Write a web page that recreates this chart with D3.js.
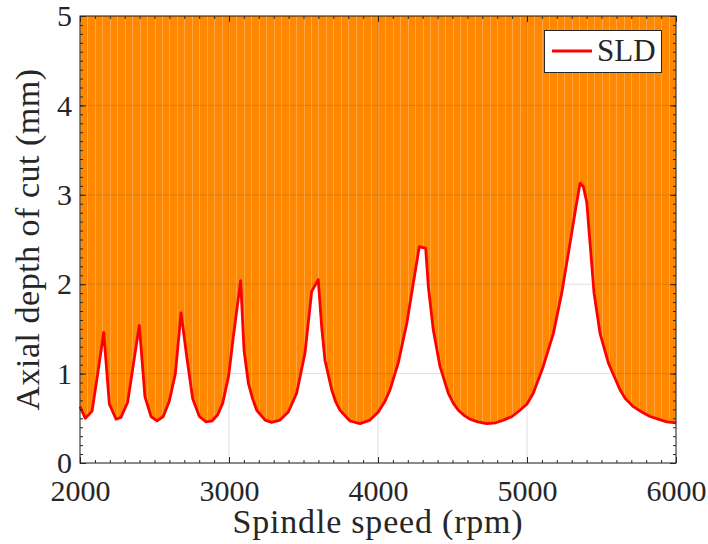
<!DOCTYPE html>
<html>
<head>
<meta charset="utf-8">
<script src="https://cdn.jsdelivr.net/npm/d3@7"></script>
<style>
  body { margin: 0; background: #fff; }
  text { font-family: "Liberation Serif", "DejaVu Serif", serif; fill: #262626; }
</style>
</head>
<body>
<div id="chart"></div>
<script>
// spindle speed (rpm) and limit axial depth of cut (mm)
const speed = [2000, 2036, 2081, 2119, 2159, 2197, 2242, 2275, 2320, 2358, 2398, 2436, 2477, 2517,
  2559, 2599, 2640, 2678, 2718, 2756, 2801, 2846, 2886, 2924, 2958, 2998, 3029, 3078, 3101, 3130,
  3158, 3186, 3242, 3286, 3342, 3398, 3454, 3510, 3555, 3599, 3622, 3644, 3689, 3715, 3745, 3812,
  3879, 3946, 4002, 4047, 4081, 4136, 4193, 4237, 4277, 4320, 4338, 4371, 4416, 4472, 4505, 4539,
  4580, 4617, 4670, 4729, 4790, 4841, 4900, 4953, 5000, 5042, 5109, 5177, 5233, 5289, 5329, 5356,
  5378, 5401, 5423, 5450, 5490, 5546, 5624, 5660, 5714, 5770, 5826, 5880, 5938, 6000];
const depth = [0.63, 0.50, 0.58, 1.00, 1.46, 0.66, 0.49, 0.51, 0.68, 1.10, 1.54, 0.74, 0.52, 0.47,
  0.52, 0.69, 1.00, 1.68, 1.17, 0.72, 0.52, 0.46, 0.47, 0.54, 0.67, 0.98, 1.41, 2.04, 1.26, 0.89,
  0.72, 0.59, 0.48, 0.455, 0.48, 0.57, 0.78, 1.23, 1.92, 2.05, 1.52, 1.15, 0.82, 0.69, 0.59, 0.47,
  0.44, 0.48, 0.57, 0.69, 0.82, 1.12, 1.56, 2.01, 2.42, 2.40, 1.97, 1.49, 1.08, 0.78, 0.67, 0.59,
  0.53, 0.49, 0.46, 0.44, 0.45, 0.48, 0.52, 0.59, 0.66, 0.78, 1.08, 1.45, 1.90, 2.46, 2.87, 3.13,
  3.09, 2.92, 2.46, 1.90, 1.45, 1.12, 0.82, 0.72, 0.63, 0.57, 0.52, 0.49, 0.46, 0.45];
const xTicks = [2000, 3000, 4000, 5000, 6000];
const yTicks = [0, 1, 2, 3, 4, 5];
const seriesName = "SLD";

var width = 708, height = 544;
// plot box edges (note: "top" is taken by window.top, so use other names)
var pLeft = 80, pRight = 676, pTop = 16, pBottom = 463;
var axisColor = "#262626";

var svg = d3.select("#chart")
  .append("svg")
  .attr("width", width)
  .attr("height", height);

var x = d3.scaleLinear().domain([2000, 6000]).range([pLeft, pRight]);
var y = d3.scaleLinear().domain([0, 5]).range([pBottom, pTop]);

var pts = speed.map((s, i) => ({ s: s, d: depth[i] }));

// unstable region: everything above the lobes
var area = d3.area()
  .x(d => x(d.s))
  .y0(y(5))
  .y1(d => y(d.d));

svg.append("clipPath")
  .attr("id", "unstable")
  .append("path")
  .attr("d", area(pts));

svg.append("path")
  .attr("d", area(pts))
  .attr("fill", "#ff8800");

// the light seams between the fill patches
svg.append("g")
  .attr("clip-path", "url(#unstable)")
  .selectAll("line")
  .data(x.ticks(100))
  .enter()
  .append("line")
  .attr("x1", d => Math.round(x(d)) + 0.5)
  .attr("x2", d => Math.round(x(d)) + 0.5)
  .attr("y1", pTop)
  .attr("y2", pBottom)
  .attr("stroke", "#fff")
  .attr("stroke-opacity", 0.25)
  .attr("stroke-width", 1);

// grid
var grid = svg.append("g")
  .attr("stroke", axisColor)
  .attr("stroke-opacity", 0.15)
  .attr("stroke-width", 1);
grid.selectAll(".gx")
  .data(xTicks)
  .enter()
  .append("line")
  .attr("x1", d => x(d)).attr("x2", d => x(d))
  .attr("y1", pTop).attr("y2", pBottom);
grid.selectAll(".gy")
  .data(yTicks)
  .enter()
  .append("line")
  .attr("x1", pLeft).attr("x2", pRight)
  .attr("y1", d => y(d)).attr("y2", d => y(d));

// SLD curve
var line = d3.line()
  .x(d => x(d.s))
  .y(d => y(d.d));

svg.append("path")
  .attr("d", line(pts))
  .attr("fill", "none")
  .attr("stroke", "#ff0000")
  .attr("stroke-width", 2.8)
  .attr("stroke-linejoin", "round");

// axes, ticks pointing inwards on all four sides
function styleAxis(g) {
  g.select(".domain").remove();
  g.selectAll(".tick line").attr("stroke", axisColor);
  g.selectAll("text")
    .style("font-size", "30px")
    .attr("fill", axisColor);
}

svg.append("g")
  .attr("transform", "translate(0," + pBottom + ")")
  .call(d3.axisBottom(x).tickValues(xTicks).tickSizeInner(-6).tickSizeOuter(0).tickPadding(17).tickFormat(d3.format("d")))
  .call(styleAxis);
svg.append("g")
  .attr("transform", "translate(0," + pBottom + ")")
  .call(d3.axisBottom(x).ticks(40).tickSizeInner(-3).tickSizeOuter(0).tickFormat(""))
  .call(styleAxis);
svg.append("g")
  .attr("transform", "translate(0," + pTop + ")")
  .call(d3.axisTop(x).tickValues(xTicks).tickSizeInner(-6).tickSizeOuter(0).tickFormat(""))
  .call(styleAxis);
svg.append("g")
  .attr("transform", "translate(0," + pTop + ")")
  .call(d3.axisTop(x).ticks(40).tickSizeInner(-3).tickSizeOuter(0).tickFormat(""))
  .call(styleAxis);

svg.append("g")
  .attr("transform", "translate(" + pLeft + ",0)")
  .call(d3.axisLeft(y).tickValues(yTicks).tickSizeInner(-6).tickSizeOuter(0).tickPadding(8).tickFormat(d3.format("d")))
  .call(styleAxis);
svg.append("g")
  .attr("transform", "translate(" + pLeft + ",0)")
  .call(d3.axisLeft(y).ticks(50).tickSizeInner(-3).tickSizeOuter(0).tickFormat(""))
  .call(styleAxis);
svg.append("g")
  .attr("transform", "translate(" + pRight + ",0)")
  .call(d3.axisRight(y).tickValues(yTicks).tickSizeInner(-6).tickSizeOuter(0).tickFormat(""))
  .call(styleAxis);
svg.append("g")
  .attr("transform", "translate(" + pRight + ",0)")
  .call(d3.axisRight(y).ticks(50).tickSizeInner(-3).tickSizeOuter(0).tickFormat(""))
  .call(styleAxis);

// box
svg.append("rect")
  .attr("x", pLeft).attr("y", pTop)
  .attr("width", pRight - pLeft).attr("height", pBottom - pTop)
  .attr("fill", "none")
  .attr("stroke", axisColor)
  .attr("stroke-width", 1);

// axis labels
svg.append("text")
  .attr("x", (pLeft + pRight) / 2)
  .attr("y", 533)
  .attr("text-anchor", "middle")
  .style("font-size", "34px")
  .style("letter-spacing", "0.8px")
  .text("Spindle speed (rpm)");

svg.append("text")
  .attr("transform", "translate(39," + (pTop + pBottom) / 2 + ") rotate(-90)")
  .attr("text-anchor", "middle")
  .style("font-size", "34px")
  .style("letter-spacing", "0.5px")
  .text("Axial depth of cut (mm)");

// legend
var legend = svg.append("g");
legend.append("rect")
  .attr("x", 544.5).attr("y", 30.5)
  .attr("width", 117).attr("height", 42)
  .attr("fill", "#fff")
  .attr("stroke", axisColor)
  .attr("stroke-width", 1);
legend.append("line")
  .attr("x1", 552).attr("x2", 592)
  .attr("y1", 51).attr("y2", 51)
  .attr("stroke", "#ff0000")
  .attr("stroke-width", 2.8);
legend.append("text")
  .attr("x", 597)
  .attr("y", 61)
  .style("font-size", "31px")
  .attr("fill", "#000")
  .text(seriesName);
</script>
</body>
</html>
